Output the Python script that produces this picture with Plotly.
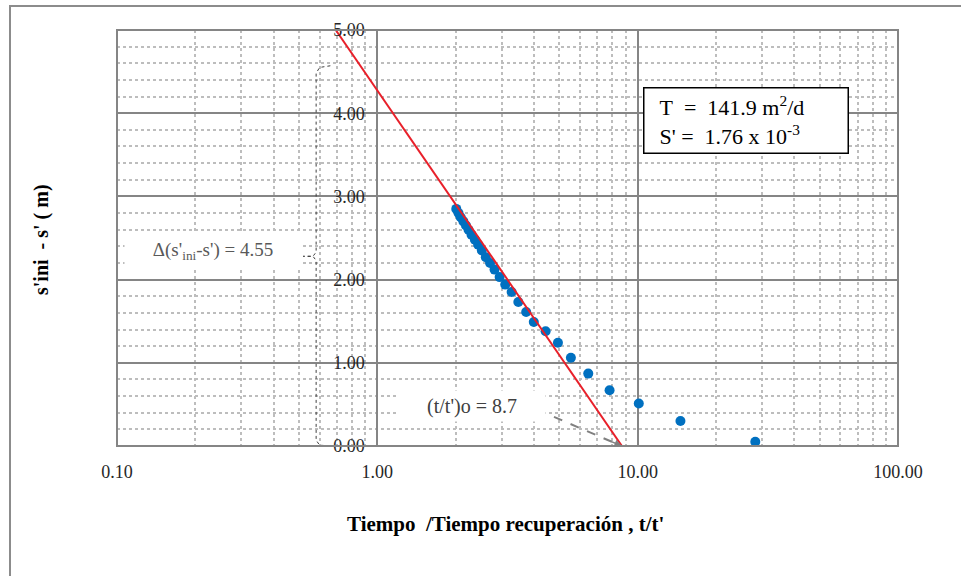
import plotly.graph_objects as go
import math

# ---- data ----
ratio_t = [28.3, 14.6, 10.1, 7.8, 6.46, 5.54, 4.94, 4.43, 3.99, 3.73, 3.48, 3.28,
           3.10, 2.95, 2.82, 2.71, 2.61, 2.52, 2.44, 2.37, 2.30, 2.24, 2.19, 2.14,
           2.09, 2.05, 2.01]
recovery = [0.05, 0.30, 0.51, 0.67, 0.87, 1.06, 1.24, 1.38, 1.49, 1.61, 1.73, 1.85,
            1.94, 2.03, 2.12, 2.20, 2.27, 2.35, 2.42, 2.48, 2.54, 2.60, 2.65, 2.70,
            2.75, 2.80, 2.85]
fit_x = [0.692, 8.7]
fit_y = [5.0, 0.0]
brace_x = [0.66, 0.60, 0.582, 0.582, 0.566, 0.519, 0.566, 0.582, 0.582, 0.60, 0.66]
brace_y = [4.57, 4.55, 4.48, 2.33, 2.28, 2.28, 2.28, 2.23, 0.07, 0.01, 0.0]
arrow_x = [4.77, 8.5]
arrow_y = [0.35, 0.012]
x_ticks = [0.1, 1, 10, 100]
x_ticktext = ["0.10", "1.00", "10.00", "100.00"]
minor_x = [m * d for d in (0.1, 1, 10) for m in range(2, 10)]

SERIF = "Liberation Serif, Times New Roman, serif"

# plot area in pixels
L, R, T, B = 117, 898, 30, 446
W, H = R - L, B - T
def px(xp): return (xp - L) / W
def py(yp): return (B - yp) / H

fig = go.Figure()

fig.add_trace(go.Scatter(x=brace_x, y=brace_y, mode="lines",
                         line=dict(color="#404040", width=1, dash="dot"),
                         hoverinfo="skip"))
fig.add_trace(go.Scatter(x=arrow_x, y=arrow_y, mode="lines",
                         line=dict(color="#808080", width=2, dash="dash"),
                         hoverinfo="skip"))
fig.add_trace(go.Scatter(x=ratio_t, y=recovery, mode="markers",
                         marker=dict(color="#0070C0", size=10)))
fig.add_trace(go.Scatter(x=fit_x, y=fit_y, mode="lines",
                         line=dict(color="#E8202A", width=2)))

fig.update_xaxes(type="log", range=[-1, 2], tickvals=x_ticks, ticktext=x_ticktext,
                 showgrid=True, gridcolor="#858585", gridwidth=2,
                 ticks="outside", ticklen=9, tickcolor="rgba(0,0,0,0)",
                 tickfont=dict(size=18, color="#262626", family=SERIF),
                 minor=dict(tickvals=minor_x, showgrid=True, gridcolor="#bdbdbd",
                            griddash="dot", gridwidth=1.5, ticks=""),
                 showline=False, zeroline=False)
fig.update_yaxes(range=[0, 5], dtick=1, tickformat=".2f", anchor="free",
                 position=1/3, showgrid=True, gridcolor="#858585", gridwidth=2,
                 ticks="outside", ticklen=9, tickcolor="rgba(0,0,0,0)",
                 tickfont=dict(size=18, color="#262626", family=SERIF),
                 minor=dict(dtick=0.2, showgrid=True, gridcolor="#bdbdbd",
                            griddash="dot", gridwidth=1.5, ticks=""),
                 showline=False, zeroline=False)

fig.add_shape(type="rect", xref="paper", yref="paper", x0=0, x1=1, y0=0, y1=1,
              line=dict(color="#858585", width=2), layer="above")
fig.add_shape(type="rect", xref="paper", yref="paper",
              x0=px(10), x1=px(970), y0=py(590), y1=py(6),
              line=dict(color="#8c8c8c", width=2))

fig.add_annotation(xref="paper", yref="paper", x=px(745.5), y=py(120.5),
                   xanchor="center", yanchor="middle",
                   text="&nbsp;&nbsp;T&nbsp; = &nbsp;141.9 m<sup>2</sup>/d<br>&nbsp;&nbsp;S' = &nbsp;1.76 x 10<sup>-3</sup>",
                   showarrow=False, align="left", width=195, height=56,
                   bgcolor="white", bordercolor="black", borderwidth=1.5, borderpad=4,
                   font=dict(size=22, color="black", family=SERIF))
fig.add_annotation(xref="paper", yref="paper", x=px(213), y=py(251),
                   xanchor="center", yanchor="middle",
                   text="Δ(s'<sub>ini</sub>-s') = 4.55", showarrow=False,
                   align="center", width=168, height=26, bgcolor="white", borderpad=4,
                   font=dict(size=19, color="#595959", family=SERIF))
fig.add_annotation(xref="paper", yref="paper", x=px(472), y=py(406),
                   xanchor="center", yanchor="middle",
                   text="(t/t')o = 8.7", showarrow=False,
                   align="center", width=140, height=24, bgcolor="white", borderpad=3,
                   font=dict(size=20, color="#404040", family=SERIF))
fig.add_annotation(x=math.log10(8.7), y=0, xref="x", yref="y", text="",
                   showarrow=True, arrowhead=2, arrowsize=1, arrowwidth=1.5,
                   arrowcolor="#808080", ax=-12, ay=-5)
fig.add_annotation(xref="paper", yref="paper", x=px(505), y=py(524),
                   xanchor="center", yanchor="middle",
                   text="<b>Tiempo&nbsp; /Tiempo recuperación , t/t'</b>", showarrow=False,
                   font=dict(size=21, color="black", family=SERIF))
fig.add_annotation(xref="paper", yref="paper", x=px(41), y=py(240),
                   xanchor="center", yanchor="middle",
                   text="<b>s'ini&nbsp; - s' ( m)</b>", showarrow=False, textangle=-90,
                   font=dict(size=20, color="black", family=SERIF))

fig.update_layout(width=961, height=576, margin=dict(l=L, r=961 - R, t=T, b=576 - B),
                  paper_bgcolor="white", plot_bgcolor="white", showlegend=False,
                  font=dict(family=SERIF))

fig.write_html("out.html")
